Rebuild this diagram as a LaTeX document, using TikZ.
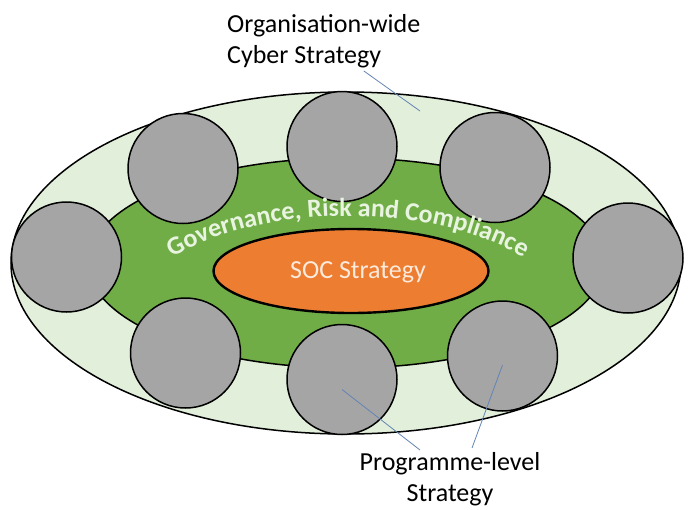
\documentclass[tikz,border=0pt]{standalone}
\usepackage{fontspec}
\setmainfont{Carlito}
\usetikzlibrary{shapes.geometric,decorations.text,positioning}
\definecolor{bandgreen}{HTML}{E2EFDA}
\definecolor{grcgreen}{HTML}{70AD47}
\definecolor{socorange}{HTML}{ED7D31}
\definecolor{seatgray}{HTML}{A5A5A5}
\definecolor{pointerblue}{HTML}{6384B4}
\definecolor{soctext}{HTML}{FCEBDD}
\definecolor{grctext}{HTML}{E8F4E0}

\begin{document}
\begin{tikzpicture}[x=1pt, y=-1pt]
		\tikzstyle{ring} = [draw, line width=1.5pt, ellipse, inner sep=0pt]
		\tikzstyle{seat} = [draw, line width=1.5pt, circle, fill=seatgray,
		minimum size=110pt, inner sep=0pt]
		\tikzstyle{caption} = [font=\fontsize{26}{31}\selectfont, inner sep=0pt]
		\tikzstyle{pointer} = [draw=pointerblue, line width=0.8pt]
		\useasboundingbox (0,0) rectangle (691,509);
		\node[ring, fill=bandgreen, minimum width=670pt, minimum height=342pt] (org) at (346,263) {};
		\node[ring, fill=grcgreen, minimum width=516pt, minimum height=210pt] (grc) at (346,263) {};
		% the eight programme seats
		\node[seat] (tl) at (183,168.5) {};
		\node[seat] (tm) at (342,146.5) {};
		\node[seat] (tr) at (495,167.5) {};
		\node[seat] (l) at (66.5,257) {};
		\node[seat] (r) at (628,258) {};
		\node[seat] (bl) at (185.5,353) {};
		\node[seat] (bm) at (342,379.5) {};
		\node[seat] (br) at (502.5,356) {};
		\node[ring, fill=socorange, line width=2.4pt, minimum width=275pt,
		minimum height=84pt] (soc) at (351,271) {};
		\node[caption, text=soctext, anchor=base] (soctxt) at (358,278) {SOC Strategy};
		% curved title of the green band
		\path[decorate, decoration={text along path, text align=center, text color=grctext,
			text={|\fontsize{26}{26}\selectfont\bfseries|Governance, Risk and Compliance}}]
		(348,333) ++(-141.5:230 and 117) arc[start angle=-141.5, end angle=-38.5,
		x radius=230, y radius=117];
		\node[caption, align=left, anchor=north west] (orgwide) at (227,14)
		{Organisation-wide\\Cyber Strategy};
		\node[caption, align=center, anchor=north] (prog) at (450,452)
		{Programme-level\\Strategy};
		\coordinate (orgtip) at (420,111);
		\draw[pointer] ([xshift=40pt,yshift=-3pt]orgwide.south) -- (orgtip);
		\draw[pointer] ([yshift=-10pt]bm.center) -- ([xshift=-30pt,yshift=2pt]prog.north);
		\draw[pointer] ([yshift=-9pt]br.center) -- ([xshift=22pt,yshift=4pt]prog.north);
\end{tikzpicture}
\end{document}
